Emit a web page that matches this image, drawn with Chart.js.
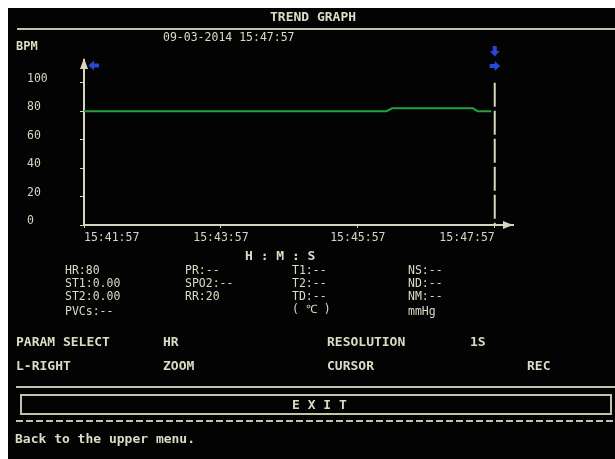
<!DOCTYPE html>
<html>
<head>
<meta charset="utf-8">
<script src="https://cdn.jsdelivr.net/npm/chart.js@4.4.0/dist/chart.umd.js"></script>
<style>
    body { margin: 0; background: #fff; }
    #screen { position: absolute; left: 8px; top: 8px; width: 607px; height: 451px; background: #030303; }
    #chartBox { position: absolute; left: 0; top: 0; width: 615px; height: 459px; }
    .t { position: absolute; font-family: "DejaVu Sans Mono", monospace; color: #dcdcc6; white-space: pre; line-height: 14px; }
    .b { font-weight: bold; font-size: 13px; }
    .n { font-size: 11.5px; }
    .hl { position: absolute; height: 2px; background: #c4c4aa; }
</style>
</head>
<body>
<div id="screen"></div>
<div id="chartBox"><canvas id="trendChart"></canvas></div>

<div class="t b" style="left:270px;top:10px">TREND GRAPH</div>
<div class="hl" style="left:17px;top:28px;width:598px"></div>
<div class="t n" style="left:163px;top:30px">09-03-2014 15:47:57</div>
<div class="t b" style="left:16px;top:39px;font-size:12px">BPM</div>

<div class="t b" style="left:245px;top:249px">H : M : S</div>

<div class="t n" style="left:65px;top:263px">HR:80</div>
<div class="t n" style="left:65px;top:276px">ST1:0.00</div>
<div class="t n" style="left:65px;top:289px">ST2:0.00</div>
<div class="t n" style="left:65px;top:304px">PVCs:--</div>

<div class="t n" style="left:185px;top:263px">PR:--</div>
<div class="t n" style="left:185px;top:276px">SPO2:--</div>
<div class="t n" style="left:185px;top:289px">RR:20</div>

<div class="t n" style="left:292px;top:263px">T1:--</div>
<div class="t n" style="left:292px;top:276px">T2:--</div>
<div class="t n" style="left:292px;top:289px">TD:--</div>
<div class="t n" style="left:292px;top:302px">( ℃ )</div>

<div class="t n" style="left:408px;top:263px">NS:--</div>
<div class="t n" style="left:408px;top:276px">ND:--</div>
<div class="t n" style="left:408px;top:289px">NM:--</div>
<div class="t n" style="left:408px;top:304px">mmHg</div>

<div class="t b" style="left:16px;top:335px">PARAM SELECT</div>
<div class="t b" style="left:163px;top:335px">HR</div>
<div class="t b" style="left:327px;top:335px">RESOLUTION</div>
<div class="t b" style="left:470px;top:335px">1S</div>

<div class="t b" style="left:16px;top:359px">L-RIGHT</div>
<div class="t b" style="left:163px;top:359px">ZOOM</div>
<div class="t b" style="left:327px;top:359px">CURSOR</div>
<div class="t b" style="left:527px;top:359px">REC</div>

<div class="hl" style="left:16px;top:386px;width:599px"></div>
<div style="position:absolute;left:20px;top:394px;width:588px;height:17px;border:2px solid #c4c4aa"></div>
<div class="t b" style="left:292px;top:398px">E X I T</div>
<div class="hl" style="left:16px;top:420px;width:599px;background:repeating-linear-gradient(90deg,#c4c4aa 0 7px,transparent 7px 10px)"></div>
<div class="t b" style="left:15px;top:432px">Back to the upper menu.</div>

<script>
    'use strict';

    // trend data: seconds after 15:41:57 vs heart rate
    const timeSec = [0, 265, 270, 341, 345, 357];
    const hrValues = [80, 80, 82, 82, 80, 80];
    // cursor position (seconds) and its vertical extent, drawn top to bottom
    const cursorTime = [360, 360];
    const cursorValues = [100, 0];
    const xTickValues = [0, 120, 240, 360];
    const xTickLabels = ['15:41:57', '15:43:57', '15:45:57', '15:47:57'];
    const yTickValues = [0, 20, 40, 60, 80, 100];

    const AXIS = '#d6d6c0';
    const GREEN = '#1fa23b';
    const BLUE = '#2c46d6';
    const FONT = { family: 'DejaVu Sans Mono', size: 11.5 };

    // arrowheads on the axes and the blue cursor markers
    const decorPlugin = {
        id: 'decor',
        afterDraw(chart) {
            const ctx = chart.ctx;
            const a = chart.chartArea;
            const cx = chart.scales.x.getPixelForValue(cursorTime[0]);
            ctx.save();
            ctx.fillStyle = AXIS;
            // y axis arrow
            ctx.beginPath();
            ctx.moveTo(a.left, a.top - 2);
            ctx.lineTo(a.left - 4, a.top + 9);
            ctx.lineTo(a.left + 4, a.top + 9);
            ctx.closePath();
            ctx.fill();
            // x axis arrow
            ctx.beginPath();
            ctx.moveTo(a.right, a.bottom);
            ctx.lineTo(a.right - 10, a.bottom - 4);
            ctx.lineTo(a.right - 10, a.bottom + 4);
            ctx.closePath();
            ctx.fill();

            ctx.fillStyle = BLUE;
            // left arrow next to y axis
            blockArrow(ctx, a.left + 10, a.top + 5.5, 'left');
            // down + right arrows over cursor
            blockArrow(ctx, cx, a.top - 9, 'down');
            blockArrow(ctx, cx, a.top + 6, 'right');
            ctx.restore();
        }
    };

    function blockArrow(ctx, x, y, dir) {
        const pts = [[-5, -2], [0, -2], [0, -5], [5.5, 0], [0, 5], [0, 2], [-5, 2]];
        ctx.beginPath();
        pts.forEach(function(p, i) {
            let px = p[0], py = p[1];
            if (dir === 'left') { px = -px; }
            if (dir === 'down') { const t = px; px = py; py = t; }
            if (i === 0) ctx.moveTo(x + px, y + py); else ctx.lineTo(x + px, y + py);
        });
        ctx.closePath();
        ctx.fill();
    }

    const ctx = document.getElementById('trendChart').getContext('2d');
    new Chart(ctx, {
        type: 'line',
        data: {
            datasets: [
                {
                    label: 'HR',
                    data: timeSec.map((t, i) => ({ x: t, y: hrValues[i] })),
                    borderColor: GREEN,
                    borderWidth: 2,
                    pointRadius: 0,
                    tension: 0
                },
                {
                    label: 'Cursor',
                    data: cursorTime.map((t, i) => ({ x: t, y: cursorValues[i] })),
                    borderColor: AXIS,
                    borderWidth: 2,
                    borderDash: [24, 4],
                    pointRadius: 0
                }
            ]
        },
        options: {
            responsive: true,
            maintainAspectRatio: false,
            animation: false,
            layout: { padding: { left: 27, right: 102, top: 60, bottom: 214 } },
            plugins: { legend: { display: false }, tooltip: { enabled: false } },
            scales: {
                x: {
                    type: 'linear',
                    min: 0,
                    max: 376,
                    afterBuildTicks: s => { s.ticks = xTickValues.map(v => ({ value: v })); },
                    afterFit: s => { s.height = 20; },
                    border: { color: AXIS, width: 2 },
                    grid: { drawOnChartArea: false, tickLength: 3, color: AXIS },
                    ticks: {
                        color: AXIS,
                        font: FONT,
                        padding: 3,
                        maxRotation: 0,
                        autoSkip: false,
                        align: 'inner',
                        callback: (v, i) => xTickLabels[i]
                    }
                },
                y: {
                    min: 0,
                    max: 116,
                    afterBuildTicks: s => { s.ticks = yTickValues.map(v => ({ value: v })); },
                    afterFit: s => { s.width = 57; },
                    border: { color: AXIS, width: 2 },
                    grid: { drawOnChartArea: false, tickLength: 4, color: AXIS },
                    ticks: {
                        color: AXIS,
                        font: FONT,
                        crossAlign: 'far',
                        labelOffset: -4
                    }
                }
            }
        },
        plugins: [decorPlugin]
    });
</script>
</body>
</html>
